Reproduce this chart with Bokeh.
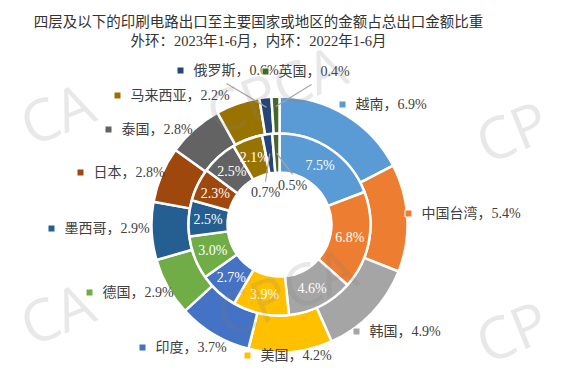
import numpy as np
from bokeh.plotting import figure
from bokeh.models import Range1d
from bokeh.core.properties import value
from bokeh.embed import file_html
from bokeh.resources import INLINE

# ---------------- data ----------------
categories = ["越南", "中国台湾", "韩国", "美国", "印度", "德国", "墨西哥",
              "日本", "泰国", "马来西亚", "俄罗斯", "英国"]
share_2023 = [6.9, 5.4, 4.9, 4.2, 3.7, 2.9, 2.9, 2.8, 2.8, 2.2, 0.6, 0.4]   # outer ring
share_2022 = [7.5, 6.8, 4.6, 3.9, 2.7, 3.0, 2.5, 2.3, 2.5, 2.1, 0.7, 0.5]   # inner ring
title_line1 = "四层及以下的印刷电路出口至主要国家或地区的金额占总出口金额比重"
title_line2 = "外环：2023年1-6月，内环：2022年1-6月"
watermark_full = "CPCA"
watermark_left = "CA"
watermark_right = "CP"

# ---------------- style / layout ----------------
colors = ["#5B9BD5", "#ED7D31", "#A5A5A5", "#FFC000", "#4472C4", "#70AD47",
          "#255E91", "#9E480E", "#636363", "#997300", "#264478", "#43682B"]
W, H = 567, 386
CX, CY = 279, H - 224
R_OUT, R_MID, R_HOLE = 128, 91, 52
# outer label marker offsets from the centre (px right, px down)
outer_label_offsets = [(63, -120), (129, -11), (77, 107), (-32, 131), (-137, 123),
                       (-190, 68), (-228, 4), (-199, -52), (-171, -95), (-162, -129),
                       (-99, -154), (-14, -153)]
# inner labels of the two thinnest slices sit in the hole
inner_hole_offsets = {10: (-14, -32), 11: (13, -39)}
outer_leader_idx = [10, 11]
FONT = value("Liberation Serif, Noto Sans CJK SC")


def ring_angles(vals):
    v = np.array(vals, dtype=float)
    c = np.concatenate([[0.0], np.cumsum(v)]) / v.sum()
    start = np.pi / 2 - 2 * np.pi * c[1:]
    end = np.pi / 2 - 2 * np.pi * c[:-1]
    return start, end, (start + end) / 2


p = figure(width=W, height=H, output_backend="svg", toolbar_location=None,
           x_range=Range1d(0, W), y_range=Range1d(0, H), min_border=0)
p.axis.visible = False
p.grid.visible = False
p.outline_line_color = None
p.background_fill_color = "white"

o_s, o_e, o_m = ring_angles(share_2023)
i_s, i_e, i_m = ring_angles(share_2022)

p.annular_wedge(x=CX, y=CY, inner_radius=R_MID, outer_radius=R_OUT,
                start_angle=o_s, end_angle=o_e, fill_color=colors,
                line_color="white", line_width=2.5)
p.annular_wedge(x=CX, y=CY, inner_radius=R_HOLE, outer_radius=R_MID,
                start_angle=i_s, end_angle=i_e, fill_color=colors,
                line_color="white", line_width=2.5)

# inner ring labels
r_in = (R_HOLE + R_MID) / 2
ix, iy, it, icol = [], [], [], []
lx0, ly0, lx1, ly1 = [], [], [], []
for k, v in enumerate(share_2022):
    if k in inner_hole_offsets:
        dx, dy = inner_hole_offsets[k]
        x, y = CX + dx, CY - dy
        icol.append("#404040")
        lx0.append(x); ly0.append(y + 11)
        lx1.append(CX + r_in * np.cos(i_m[k])); ly1.append(CY + r_in * np.sin(i_m[k]))
    else:
        x, y = CX + r_in * np.cos(i_m[k]), CY + r_in * np.sin(i_m[k])
        icol.append("white")
    ix.append(x); iy.append(y); it.append(f"{v:.1f}%")

# outer labels
mx, my, ot = [], [], []
for k, (c, v) in enumerate(zip(categories, share_2023)):
    dx, dy = outer_label_offsets[k]
    mx.append(CX + dx); my.append(CY - dy)
    ot.append(f"{c}，{v:.1f}%")
    if k in outer_leader_idx:
        r_o = 118
        lx0.append(CX + dx + 46); ly0.append(CY - dy - 13)
        lx1.append(CX + r_o * np.cos(o_m[k])); ly1.append(CY + r_o * np.sin(o_m[k]))

p.segment(x0=lx0, y0=ly0, x1=lx1, y1=ly1, line_color="#A6A6A6", line_width=1.2)

p.text(x=ix, y=iy, text=it, text_color=icol, text_align="center",
       text_baseline="middle", text_font=FONT, text_font_size="14px")

p.text(x=[x + 13 for x in mx], y=my, text=ot, text_color="#404040",
       text_align="left", text_baseline="middle", text_font=FONT,
       text_font_size="14px")
p.scatter(x=mx, y=my, marker="square", size=7, fill_color=colors,
          line_color="white", line_width=1)

# title
p.text(x=[258, 258], y=[H - 21, H - 40], text=[title_line1, title_line2],
       text_color="#333333", text_align="center", text_baseline="middle",
       text_font=FONT, text_font_size="14.5px")

# watermark tiles (edge tiles show only the letters that fall inside the page)
wm_x = [56, 275, 511, 56, 285, 511]
wm_y = [112, 88, 130, 312, 290, 330]
wm_t = [watermark_left, watermark_full, watermark_right,
        watermark_left, watermark_full, watermark_right]
p.text(x=wm_x, y=[H - y for y in wm_y], text=wm_t, angle=np.deg2rad(22),
       text_align="center", text_baseline="middle", text_font=value("Open Sans"),
       text_font_size="58px", text_color="#808080", text_alpha=0.18)

open("out.html", "w").write(file_html(p, INLINE))
